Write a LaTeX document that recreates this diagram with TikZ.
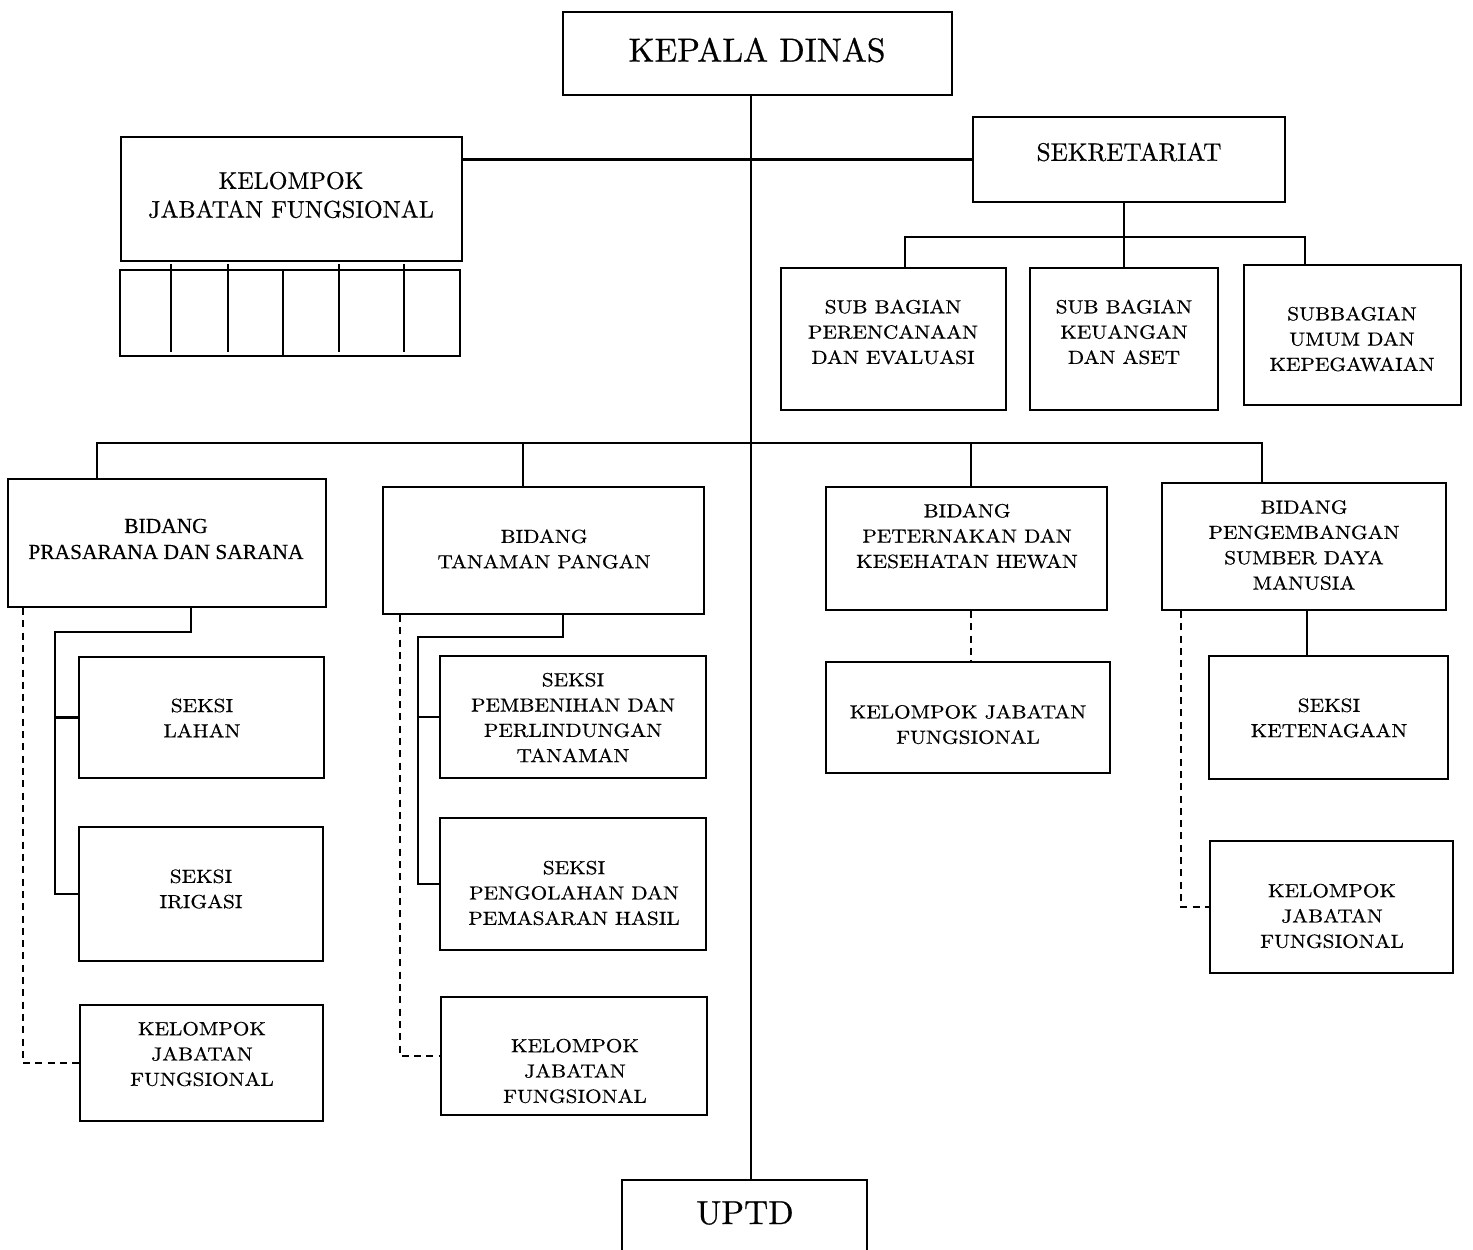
\documentclass[tikz,border=0pt]{standalone}
\usepackage{fontspec}
\usetikzlibrary{calc}
\newfontfamily\bookfont{lmroman10-regular.otf}[FakeStretch=1.12, FakeBold=0.6]
\newfontfamily\centfont{lmroman10-regular.otf}[FakeBold=0.6]
\newfontfamily\timesfont{Liberation Serif}[FakeBold=0.3]

\begin{document}
\begin{tikzpicture}[x=0.02cm, y=-0.02cm,
    box/.style={draw, line width=1.2pt, inner sep=0pt},
    book/.style={font=\bookfont\fontsize{10.8}{14.4}\selectfont, align=center},
    link/.style={line width=1.2pt},
    dlink/.style={line width=0.9pt, dash pattern=on 4pt off 3pt}]

\useasboundingbox (0,0) rectangle (1473,1250);

% === Pimpinan ===
\node[box, minimum width=7.78cm, minimum height=1.66cm] (kd) at (757.5,53.5) {};
\node[font=\centfont\fontsize{19}{23}\selectfont] at (757,50) {KEPALA DINAS};

\node[box, minimum width=4.9cm, minimum height=1.8cm] (uptd) at (744.5,1225) {};
\node[font=\centfont\fontsize{19}{23}\selectfont] at (745,1213) {UPTD};

% Garis utama
\coordinate (spine) at (751,0);
\draw[link] (kd.south -| spine) -- (uptd.north -| spine);

% === Kelompok jabatan fungsional (atas) ===
\node[box, minimum width=6.82cm, minimum height=2.48cm] (kjf) at (291.5,199) {};
\node[font=\centfont\fontsize{13.7}{16.4}\selectfont, align=center] at (291,195) {KELOMPOK\\JABATAN FUNGSIONAL};

\node[box, minimum width=6.8cm, minimum height=1.72cm] (grid) at (290,313) {};
\foreach \gx in {171,228,339,404} {
    \draw[line width=1.2pt] (\gx,264) -- (\gx,352);
}
\draw[line width=1.2pt] (grid.north -| 283,0) -- (grid.south -| 283,0);

% === Sekretariat ===
\node[box, minimum width=6.24cm, minimum height=1.7cm] (sek) at (1129,159.5) {};
\node[font=\centfont\fontsize{14.4}{17}\selectfont] at (1129,152) {SEKRETARIAT};

\draw[link] (sek.west) -- (sek.west -| kjf.east);

\node[box, minimum width=4.5cm, minimum height=2.84cm] (sb1) at (893.5,339) {};
\node[book] at (893,332) {SUB BAGIAN\\PERENCANAAN\\DAN EVALUASI};
\node[box, minimum width=3.76cm, minimum height=2.84cm] (sb2) at (1124,339) {};
\node[book] at (1124,332) {SUB BAGIAN\\KEUANGAN\\DAN ASET};
\node[box, minimum width=4.34cm, minimum height=2.8cm] (sb3) at (1352.5,335) {};
\node[book] at (1352,339) {SUBBAGIAN\\UMUM DAN\\KEPEGAWAIAN};

\coordinate (sbL) at (905,237);
\coordinate (sbR) at (1305,237);
\draw[link] (sek.south -| sb2.north) -- (sb2.north);
\draw[link] (sbL |- sb1.north) -- (sbL) -- (sbR) -- (sbR |- sb3.north);

% === Bidang ===
\node[box, minimum width=6.36cm, minimum height=2.56cm] (bps) at (167,543) {};
\node[font=\timesfont\fontsize{12.2}{14.8}\selectfont, align=center] at (166,539) {BIDANG\\PRASARANA DAN SARANA};
\node[box, minimum width=6.42cm, minimum height=2.54cm] (btp) at (543.5,550.5) {};
\node[book] at (544,549) {BIDANG\\TANAMAN PANGAN};
\node[box, minimum width=5.62cm, minimum height=2.46cm] (bpkh) at (966.5,548.5) {};
\node[book] at (967,536) {BIDANG\\PETERNAKAN DAN\\KESEHATAN HEWAN};
\node[box, minimum width=5.68cm, minimum height=2.54cm] (bpsdm) at (1304,546.5) {};
\node[book] at (1304,545) {BIDANG\\PENGEMBANGAN\\SUMBER DAYA\\MANUSIA};

\coordinate (dPS) at (97,443);
\coordinate (dTP) at (523,443);
\coordinate (dPK) at (971,443);
\coordinate (dSD) at (1262,443);
\draw[link] (dPS |- bps.north) -- (dPS) -- (dSD) -- (dSD |- bpsdm.north);
\draw[link] (dTP) -- (dTP |- btp.north);
\draw[link] (dPK) -- (dPK |- bpkh.north);

% === Seksi bidang prasarana dan sarana ===
\node[box, minimum width=4.9cm, minimum height=2.42cm] (slahan) at (201.5,717.5) {};
\node[book] at (202,718) {SEKSI\\LAHAN};
\node[box, minimum width=4.88cm, minimum height=2.68cm] (sirig) at (201,894) {};
\node[book] at (201,889) {SEKSI\\IRIGASI};
\node[box, minimum width=4.86cm, minimum height=2.32cm] (kjf1) at (201.5,1063) {};
\node[book] at (202,1054) {KELOMPOK\\JABATAN\\FUNGSIONAL};

\coordinate (ps1) at (191,632);
\coordinate (psv) at (55,632);
\coordinate (psd) at (23,0);
\draw[link] (ps1 |- bps.south) -- (ps1) -- (psv) |- (sirig.west);
\draw[link] (psv |- slahan.west) -- (slahan.west);
\draw[dlink] (psd |- bps.south) |- (kjf1.west);

% === Seksi bidang tanaman pangan ===
\node[box, minimum width=5.32cm, minimum height=2.44cm] (sbenih) at (573,717) {};
\node[book] at (573,717.5) {SEKSI\\PEMBENIHAN DAN\\PERLINDUNGAN\\TANAMAN};
\node[box, minimum width=5.32cm, minimum height=2.64cm] (solah) at (573,884) {};
\node[book] at (574,893) {SEKSI\\PENGOLAHAN DAN\\PEMASARAN HASIL};
\node[box, minimum width=5.32cm, minimum height=2.36cm] (kjf2) at (574,1056) {};
\node[book] at (575,1071) {KELOMPOK\\JABATAN\\FUNGSIONAL};

\coordinate (tp1) at (563,637);
\coordinate (tpv) at (418,637);
\coordinate (tpd) at (400,0);
\draw[link] (tp1 |- btp.south) -- (tp1) -- (tpv) |- (solah.west);
\draw[link] (tpv |- sbenih.west) -- (sbenih.west);
\draw[dlink] (tpd |- btp.south) |- (kjf2.west);

% === Bidang peternakan ===
\node[box, minimum width=5.68cm, minimum height=2.22cm] (kjf3) at (968,717.5) {};
\node[book] at (968,724.5) {KELOMPOK JABATAN\\FUNGSIONAL};
\draw[dlink] (dPK |- bpkh.south) -- (dPK |- kjf3.north);

% === Bidang pengembangan SDM ===
\node[box, minimum width=4.78cm, minimum height=2.46cm] (sket) at (1328.5,717.5) {};
\node[book] at (1329,718) {SEKSI\\KETENAGAAN};
\node[box, minimum width=4.86cm, minimum height=2.64cm] (kjf4) at (1331.5,907) {};
\node[book] at (1332,916) {KELOMPOK\\JABATAN\\FUNGSIONAL};

\coordinate (sdx) at (1307,0);
\coordinate (sdd) at (1181,0);
\draw[link] (sdx |- bpsdm.south) -- (sdx |- sket.north);
\draw[dlink] (sdd |- bpsdm.south) |- (kjf4.west);

\end{tikzpicture}
\end{document}
